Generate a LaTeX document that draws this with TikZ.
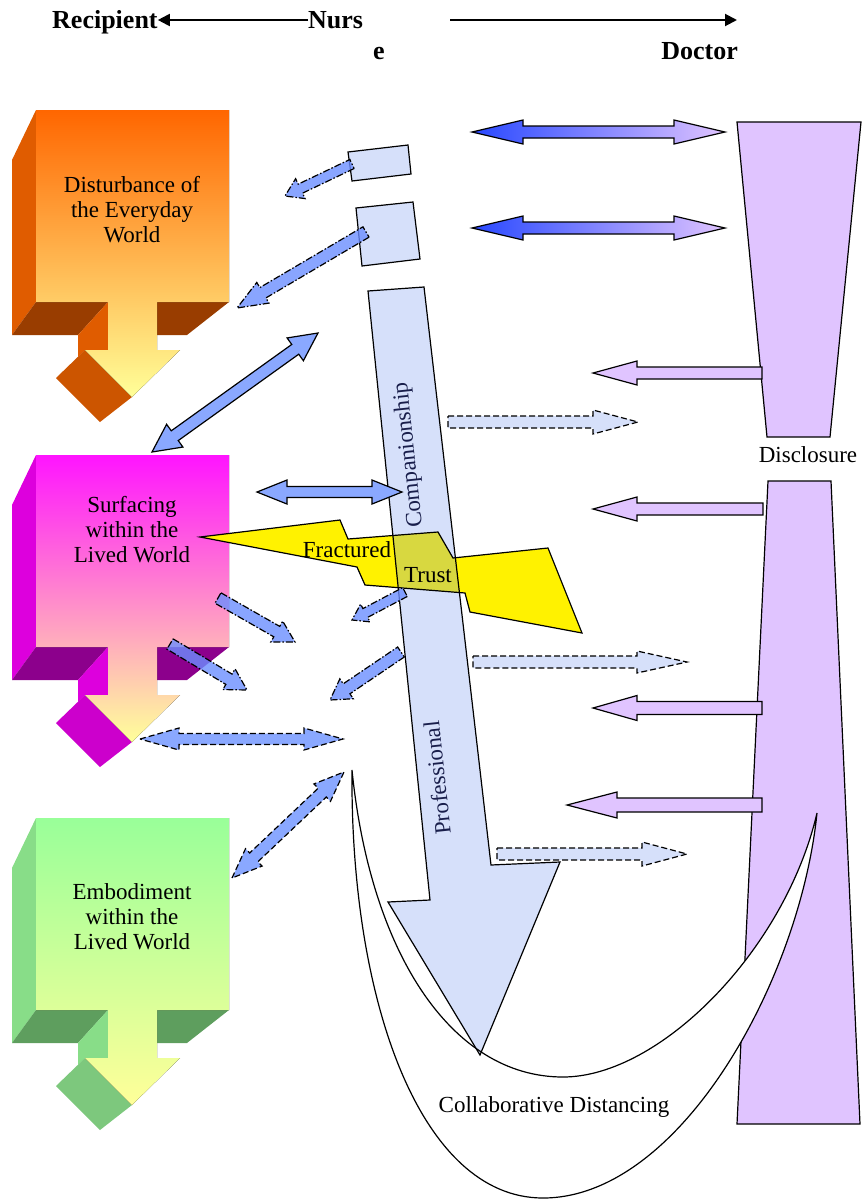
\documentclass[tikz,border=0pt]{standalone}
\usepackage{fontspec}
\setmainfont{Liberation Serif}
\usepackage{tikz}
\usetikzlibrary{arrows.meta}
\definecolor{disturbtop}{RGB}{255,102,0}
\definecolor{disturbside}{RGB}{224,92,0}
\definecolor{disturbledge}{RGB}{153,61,0}
\definecolor{disturbhead}{RGB}{204,85,0}
\definecolor{surfacetop}{RGB}{255,20,255}
\definecolor{surfaceside}{RGB}{221,0,221}
\definecolor{surfaceledge}{RGB}{140,0,140}
\definecolor{surfacehead}{RGB}{204,0,204}
\definecolor{embodytop}{RGB}{153,255,153}
\definecolor{embodyside}{RGB}{136,221,136}
\definecolor{embodyledge}{RGB}{94,158,94}
\definecolor{embodyhead}{RGB}{125,200,125}
\definecolor{paleyellow}{RGB}{255,255,153}
\definecolor{lavender}{RGB}{224,196,255}
\definecolor{paleblue}{RGB}{214,224,250}
\definecolor{linkblue}{RGB}{138,168,255}
\definecolor{dotblue}{RGB}{108,142,255}
\definecolor{deepblue}{RGB}{40,72,255}
\definecolor{trustolive}{RGB}{216,216,64}
\definecolor{navytext}{RGB}{25,30,75}
\def\professionalShape{(368,291) -- (424,287) -- (491,865) -- (560,862) -- (480,1055) -- (388,902) -- (430,900) -- cycle}
\def\fracturedShape{(200,537) -- (340,520) -- (348,539) -- (438,532) -- (453,558) -- (548,548) -- (582,633) -- (470,612) -- (465,593) -- (365,585) -- (357,567) -- cycle}
\def\crescentShape{(352,770) .. controls (350,1000) and (420,1198) .. (543,1198) .. controls (680,1198) and (800,980) .. (817,813) .. controls (785,950) and (660,1077) .. (563,1077) .. controls (450,1077) and (370,950) .. (352,770) -- cycle}
\tikzset{
  blockline/.style={draw=black, line width=1.2pt},
  sharearrow/.style={blockline, left color=deepblue, right color=lavender},
  disclosearrow/.style={blockline, fill=lavender},
  reportarrow/.style={blockline, fill=paleblue, dash pattern=on 6pt off 3pt},
  linkarrow/.style={blockline, fill=linkblue},
  dashlink/.style={linkarrow, dash pattern=on 6pt off 3pt},
  dotlink/.style={blockline, fill=dotblue, fill opacity=0.8, dash pattern=on 7pt off 2pt on 1.5pt off 2pt},
  doctorbar/.style={blockline, fill=lavender},
  palebox/.style={blockline, fill=paleblue},
  boxtext/.style={align=center, inner sep=0pt, font=\fontsize{23}{25}\selectfont},
  headtext/.style={inner sep=0pt, font=\fontsize{26}{28}\selectfont\bfseries},
  headarrow/.style={line width=2pt, -{Triangle[length=12pt,width=12pt]}},
}
% angle and length between two named points
\newcommand{\arrowsetup}[3]{%
  \pgfpointdiff{\pgfpointanchor{#1}{center}}{\pgfpointanchor{#2}{center}}%
  \pgfgetlastxy{\arrowdx}{\arrowdy}%
  \pgfmathsetmacro\arrowang{atan2(\arrowdy,\arrowdx)}%
  \pgfmathsetmacro\arrowlen{veclen(\arrowdx,\arrowdy)}%
  \pgfmathsetmacro\arrowneck{\arrowlen-#3}}
% #1 style, #2 tail, #3 tip, #4 shaft half width, #5 head half width, #6 head length
\newcommand{\blockarrow}[6][]{%
  \arrowsetup{#2}{#3}{#6}%
  \draw[#1,shift={(#2)},rotate=\arrowang] (0pt,#4pt) -- (\arrowneck pt,#4pt) -- (\arrowneck pt,#5pt) -- (\arrowlen pt,0pt)
    -- (\arrowneck pt,-#5pt) -- (\arrowneck pt,-#4pt) -- (0pt,-#4pt) -- cycle;}
\newcommand{\doublearrow}[6][]{%
  \arrowsetup{#2}{#3}{#6}%
  \draw[#1,shift={(#2)},rotate=\arrowang] (0pt,0pt) -- (#6pt,#5pt) -- (#6pt,#4pt) -- (\arrowneck pt,#4pt) -- (\arrowneck pt,#5pt)
    -- (\arrowlen pt,0pt) -- (\arrowneck pt,-#5pt) -- (\arrowneck pt,-#4pt) -- (#6pt,-#4pt) -- (#6pt,-#5pt) -- cycle;}
% #1 shift, #2 top, #3 side, #4 ledge, #5 head side, #6 bottom
\newcommand{\recipientbox}[6]{%
  \begin{scope}[shift={(0,#1)}]
    \fill[#3] (12,160) -- (36,110) -- (36,302) -- (12,335) -- cycle;
    \fill[#4] (12,335) -- (36,302) -- (108,302) -- (78,335) -- cycle;
    \fill[#4] (157,302) -- (229,302) -- (187,335) -- (157,335) -- cycle;
    \fill[#3] (78,335) -- (108,302) -- (108,350) -- (85,350) -- (78,357) -- cycle;
    \fill[#5] (56,378) -- (85,350) -- (132,397) -- (100,422) -- cycle;
    \fill[top color=#2, bottom color=#6] (36,110) -- (229,110) -- (229,302) -- (157,302) -- (157,350) -- (180,350)
      -- (132,397) -- (85,350) -- (108,350) -- (108,302) -- (36,302) -- cycle;
  \end{scope}}

\begin{document}
\begin{tikzpicture}[x=1pt, y=-1pt]
  \useasboundingbox (0,0) rectangle (862,1200);

  % header
  \coordinate (headline) at (0,20);
  \node[headtext, anchor=base west] (recipient) at (52,28) {Recipient};
  \node[headtext, anchor=base west] (nurs) at (308,28) {Nurs};
  \node[headtext, anchor=base west] (nurs-e) at (373,59) {e};
  \node[headtext, anchor=base east] (doctor) at (738,59) {Doctor};
  \coordinate (nurse-right) at (450,20);
  \coordinate (doctor-end) at (737,20);
  \draw[headarrow] (nurs.west |- headline) -- (recipient.east |- headline);
  \draw[headarrow] (nurse-right) -- (doctor-end);

  % recipient column
  \recipientbox{0}{disturbtop}{disturbside}{disturbledge}{disturbhead}{paleyellow}
  \node[boxtext] (disturbance) at (132,210) {Disturbance of\\the Everyday\\World};
  \recipientbox{345}{surfacetop}{surfaceside}{surfaceledge}{surfacehead}{paleyellow}
  \node[boxtext] (surfacing) at (132,530) {Surfacing\\within the\\Lived World};
  \recipientbox{708}{embodytop}{embodyside}{embodyledge}{embodyhead}{paleyellow}
  \node[boxtext] (embodiment) at (132,917) {Embodiment\\within the\\Lived World};

  % doctor column
  \filldraw[doctorbar] (737,122) -- (861,122) -- (830,437) -- (767,437) -- cycle;
  \node[boxtext] (disclosure) at (808,455) {Disclosure};
  \filldraw[doctorbar] (768,481) -- (831,481) -- (860,1124) -- (737,1124) -- cycle;

  % nurse column
  \fill[white] \crescentShape;
  \filldraw[palebox] (348,152) -- (408,145) -- (411,174) -- (352,181) -- cycle;
  \filldraw[palebox] (356,208) -- (413,202) -- (420,259) -- (362,266) -- cycle;
  \fill[paleblue] \professionalShape;
  \fill[yellow] \fracturedShape;
  \begin{scope}
    \clip \professionalShape;
    \fill[trustolive] \fracturedShape;
  \end{scope}
  \draw[blockline] \professionalShape;
  \draw[blockline] \fracturedShape;
  \draw[blockline] \crescentShape;
  \node[boxtext, rotate=96, text=navytext] (companionship) at (409,455) {Companionship};
  \node[boxtext, rotate=96, text=navytext] (professional) at (437,778) {Professional};
  \node[boxtext] (fractured) at (347,550) {Fractured};
  \node[boxtext] (trust) at (428,575) {Trust};
  \node[boxtext] (distancing) at (554,1107) {Collaborative Distancing};

  % nurse <-> doctor
  \coordinate (shareA-l) at (472,132); \coordinate (shareA-r) at (725,132);
  \coordinate (shareB-l) at (472,228); \coordinate (shareB-r) at (725,228);
  \doublearrow[sharearrow]{shareA-l}{shareA-r}{6}{12}{51}
  \doublearrow[sharearrow]{shareB-l}{shareB-r}{6}{12}{51}
  \coordinate (discA-s) at (762,373); \coordinate (discA-e) at (593,373);
  \coordinate (discB-s) at (763,509); \coordinate (discB-e) at (593,509);
  \coordinate (discC-s) at (762,708); \coordinate (discC-e) at (593,708);
  \coordinate (discD-s) at (762,805); \coordinate (discD-e) at (567,805);
  \blockarrow[disclosearrow]{discA-s}{discA-e}{6}{12}{44}
  \blockarrow[disclosearrow]{discB-s}{discB-e}{6}{12}{44}
  \blockarrow[disclosearrow]{discC-s}{discC-e}{6.5}{12.5}{44}
  \blockarrow[disclosearrow]{discD-s}{discD-e}{7}{13}{50}
  \coordinate (repA-s) at (448,422); \coordinate (repA-e) at (638,422);
  \coordinate (repB-s) at (473,662); \coordinate (repB-e) at (687,662);
  \coordinate (repC-s) at (497,854); \coordinate (repC-e) at (687,854);
  \blockarrow[reportarrow]{repA-s}{repA-e}{6}{12}{45}
  \blockarrow[reportarrow]{repB-s}{repB-e}{6}{11}{50}
  \blockarrow[reportarrow]{repC-s}{repC-e}{6}{12}{45}

  % recipient <-> nurse
  \coordinate (boxA-out) at (352,164); \coordinate (boxA-tip) at (285,196);
  \coordinate (boxB-out) at (366,232); \coordinate (boxB-tip) at (237,308);
  \blockarrow[dotlink]{boxA-out}{boxA-tip}{5}{11}{17}
  \blockarrow[dotlink]{boxB-out}{boxB-tip}{6}{12}{30}
  \coordinate (distA) at (152,452); \coordinate (distB) at (318,333);
  \doublearrow[linkarrow]{distA}{distB}{6}{14}{28}
  \coordinate (surfA) at (257,492); \coordinate (surfB) at (402,492);
  \doublearrow[linkarrow]{surfA}{surfB}{5.5}{12}{30}
  \coordinate (surfC-s) at (218,598); \coordinate (surfC-e) at (295,642);
  \coordinate (surfD-s) at (170,644); \coordinate (surfD-e) at (247,690);
  \blockarrow[dotlink]{surfC-s}{surfC-e}{6}{12}{21}
  \blockarrow[dotlink]{surfD-s}{surfD-e}{6}{12}{21}
  \coordinate (shaftA-s) at (405,592); \coordinate (shaftA-e) at (352,620);
  \coordinate (shaftB-s) at (401,652); \coordinate (shaftB-e) at (330,700);
  \blockarrow[dotlink]{shaftA-s}{shaftA-e}{5}{10}{15}
  \blockarrow[dotlink]{shaftB-s}{shaftB-e}{6}{12}{20}
  \coordinate (lowA) at (140,739); \coordinate (lowB) at (343,739);
  \doublearrow[dashlink]{lowA}{lowB}{5.5}{11}{39}
  \coordinate (embA) at (232,878); \coordinate (embB) at (344,772);
  \doublearrow[dashlink]{embA}{embB}{6}{12}{30}
\end{tikzpicture}
\end{document}
